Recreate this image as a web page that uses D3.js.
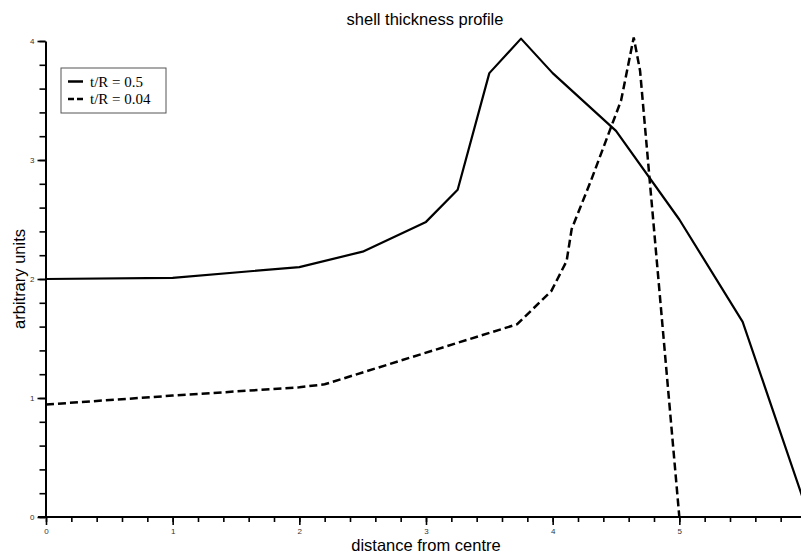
<!DOCTYPE html>
<html>
<head>
<meta charset="utf-8">
<script src="https://cdn.jsdelivr.net/npm/d3@7"></script>
<style>
  body { margin: 0; background: #fff; }
  svg { display: block; }
</style>
</head>
<body>
<div id="chart"></div>
<script>
// t/R = 0.5 (solid)
var thickX = [0, 1, 2, 2.5, 3, 3.25, 3.5, 3.75, 4, 4.5, 5, 5.5, 6];
var thickY = [2.0, 2.01, 2.1, 2.23, 2.48, 2.75, 3.73, 4.02, 3.73, 3.245, 2.5, 1.64, 0.08];

// t/R = 0.04 (dashed)
var thinX = [0, 1, 2, 2.2, 3.72, 3.99, 4.11, 4.15, 4.3, 4.54, 4.64, 4.69, 5.0];
var thinY = [0.945, 1.02, 1.09, 1.115, 1.62, 1.9, 2.15, 2.42, 2.82, 3.5, 4.03, 3.75, 0];

var legendLabels = ['t/R = 0.5', 't/R = 0.04'];

var width = 801, height = 554;
var labelFont = '"Liberation Sans", Arial, sans-serif';

var x = d3.scaleLinear().domain([0, 6]).range([46, 806]);
var y = d3.scaleLinear().domain([0, 4]).range([517, 41]);

var svg = d3.select('#chart')
    .append('svg')
        .attr('width', width)
        .attr('height', height);

function styleAxis(g) {
    g.attr('font-size', 8).attr('font-family', labelFont);
    g.selectAll('.tick line').attr('stroke', '#000').attr('stroke-width', 1.6);
    g.selectAll('.tick text').attr('fill', '#333');
}

// X axis: minor ticks every 0.2, then labelled majors
svg.append('g')
    .attr('transform', 'translate(0,517)')
    .call(d3.axisBottom(x).ticks(30).tickSize(5).tickFormat(''))
    .call(function(g) { g.select('.domain').remove(); })
    .call(styleAxis);

svg.append('g')
    .attr('transform', 'translate(0,517)')
    .call(d3.axisBottom(x).ticks(6).tickSize(8).tickSizeOuter(0).tickPadding(3)
        .tickFormat(function(d) { return d > 5 ? '' : d; }))
    .call(function(g) {
        g.select('.domain').attr('d', 'M38,0H806').attr('stroke', '#000').attr('stroke-width', 2);
    })
    .call(styleAxis);

// Y axis
svg.append('g')
    .attr('transform', 'translate(45.5,0)')
    .call(d3.axisLeft(y).ticks(20).tickSize(6).tickFormat(''))
    .call(function(g) { g.select('.domain').remove(); })
    .call(styleAxis);

svg.append('g')
    .attr('transform', 'translate(45.5,0)')
    .call(d3.axisLeft(y).ticks(4).tickSize(8).tickSizeOuter(0).tickPadding(3).tickFormat(d3.format('d')))
    .call(function(g) {
        g.select('.domain').attr('stroke', '#000').attr('stroke-width', 2);
    })
    .call(styleAxis);

// lines
var line = d3.line()
    .x(function(d) { return x(d[0]); })
    .y(function(d) { return y(d[1]); });

var thick = d3.zip(thickX, thickY);
var thin = d3.zip(thinX, thinY);

svg.append('path')
    .attr('d', line(thin))
    .attr('fill', 'none')
    .attr('stroke', '#000')
    .attr('stroke-width', 2.5)
    .attr('stroke-dasharray', '8,4');

svg.append('path')
    .attr('d', line(thick))
    .attr('fill', 'none')
    .attr('stroke', '#000')
    .attr('stroke-width', 2.2)
    .attr('stroke-linejoin', 'round');

// title and axis labels
svg.append('text')
    .attr('x', 425)
    .attr('y', 25)
    .attr('text-anchor', 'middle')
    .style('font-family', labelFont)
    .style('font-size', '16.5px')
    .text('shell thickness profile');

svg.append('text')
    .attr('x', 426)
    .attr('y', 551)
    .attr('text-anchor', 'middle')
    .style('font-family', labelFont)
    .style('font-size', '16.5px')
    .text('distance from centre');

svg.append('text')
    .attr('transform', 'translate(25,279) rotate(-90)')
    .attr('text-anchor', 'middle')
    .style('font-family', labelFont)
    .style('font-size', '16.5px')
    .text('arbitrary units');

// legend
var legend = svg.append('g').attr('transform', 'translate(61,68)');
legend.append('rect')
    .attr('width', 105)
    .attr('height', 45)
    .attr('fill', '#fff')
    .attr('stroke', '#555')
    .attr('stroke-width', 1);

legendLabels.forEach(function(label, i) {
    var ly = 13.5 + i * 17.5;
    legend.append('line')
        .attr('x1', 7).attr('x2', 22)
        .attr('y1', ly).attr('y2', ly)
        .attr('stroke', '#000')
        .attr('stroke-width', 2.5)
        .attr('stroke-dasharray', i === 1 ? '6,3' : null);
    legend.append('text')
        .attr('x', 29)
        .attr('y', ly + 5)
        .style('font-family', '"Liberation Serif", "Times New Roman", serif')
        .style('font-size', '15px')
        .text(label);
});
</script>
</body>
</html>
